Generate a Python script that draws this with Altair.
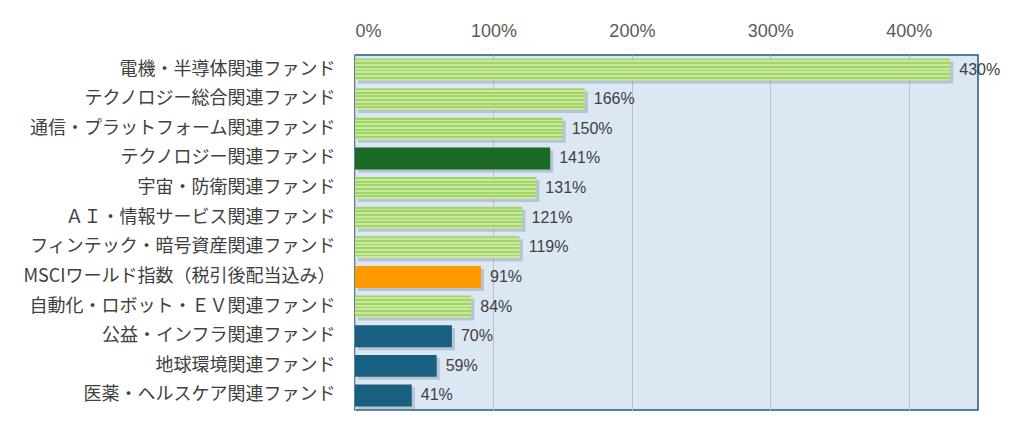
import altair as alt
import pandas as pd

funds = [
    "電機・半導体関連ファンド",
    "テクノロジー総合関連ファンド",
    "通信・プラットフォーム関連ファンド",
    "テクノロジー関連ファンド",
    "宇宙・防衛関連ファンド",
    "ＡＩ・情報サービス関連ファンド",
    "フィンテック・暗号資産関連ファンド",
    "MSCIワールド指数（税引後配当込み）",
    "自動化・ロボット・ＥＶ関連ファンド",
    "公益・インフラ関連ファンド",
    "地球環境関連ファンド",
    "医薬・ヘルスケア関連ファンド",
]
values = [430, 166, 150, 141, 131, 121, 119, 91, 84, 70, 59, 41]
groups = ["p", "p", "p", "g", "p", "p", "p", "o", "p", "b", "b", "b"]

df = pd.DataFrame({"fund": funds, "value": values, "group": groups})
df["ratio"] = df["value"] / 100.0
df["label"] = df["value"].astype(str) + "%"

jp_font = "Noto Sans CJK JP"
num_font = "Liberation Sans"

x_enc = alt.X(
    "ratio:Q",
    scale=alt.Scale(domain=[0, 4.5], nice=False),
    axis=alt.Axis(
        orient="top", format="%", values=[0, 1, 2, 3, 4], grid=True,
        gridColor="#bfbfbf", gridWidth=1, domain=False, ticks=False,
        labelFontSize=18, labelColor="#595959", labelFont=num_font, labelPadding=15,
        title=None,
    ),
)
y_enc = alt.Y(
    "fund:N", sort=funds,
    scale=alt.Scale(paddingInner=0.26, paddingOuter=0.12),
    axis=alt.Axis(
        domain=False, ticks=False, labelFontSize=18, labelColor="#404040",
        labelFont=jp_font, labelPadding=20, title=None, labelLimit=400,
    ),
)

base = alt.Chart(df)

shadow = base.mark_bar(color="#8a96a6", opacity=0.45, xOffset=3, yOffset=3).encode(
    x=x_enc, y=y_enc
)

# stripe-like texture approximating the checkered fill
stops = []
n = 6
for i in range(n):
    a = i / n
    b = (i + 0.5) / n
    stops.append(alt.GradientStop(offset=a, color="#a2d664"))
    stops.append(alt.GradientStop(offset=b - 0.001, color="#a2d664"))
    stops.append(alt.GradientStop(offset=b, color="#c8e7a2"))
    stops.append(alt.GradientStop(offset=min((i + 1) / n - 0.001, 1), color="#c8e7a2"))

pattern = alt.Gradient(gradient="linear", x1=0, x2=0, y1=0, y2=1, stops=stops)

solid = base.transform_filter(alt.datum.group != "p").mark_bar().encode(
    x=x_enc,
    y=y_enc,
    color=alt.Color(
        "group:N",
        scale=alt.Scale(
            domain=["p", "g", "o", "b"],
            range=["#b1dd7c", "#1b6a25", "#ff9a00", "#185f80"],
        ),
        legend=None,
    ),
)

patterned = base.transform_filter(alt.datum.group == "p").mark_bar(color=pattern).encode(
    x=x_enc, y=y_enc
)

texts = base.mark_text(align="left", dx=9, fontSize=16, color="#404040", font=num_font).encode(
    x=x_enc, y=y_enc, text="label:N"
)

chart = (
    alt.layer(shadow, solid, patterned, texts)
    .properties(
        width=623, height=355,
        autosize=alt.AutoSizeParams(type="none"),
        padding={"left": 347, "top": 47, "right": 26, "bottom": 4},
    )
    .configure_view(fill="#dce7f4", stroke="#1f5b82", strokeWidth=1.5)
)

chart.save("out.html", embed_options={"renderer": "svg", "actions": False})
